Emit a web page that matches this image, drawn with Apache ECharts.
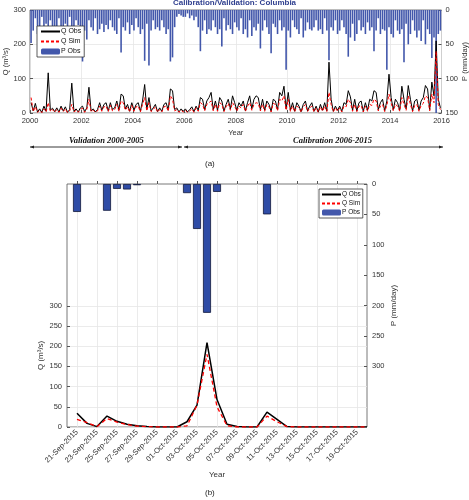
<!DOCTYPE html>
<html><head><meta charset="utf-8">
<script src="https://cdn.jsdelivr.net/npm/echarts@6/dist/echarts.min.js"></script>
<style>html,body{margin:0;padding:0;background:#fff}#c{width:469px;height:500px}</style>
</head><body><div id="c"></div>
<script>
// ---------- Panel (a): monthly representative values, Jan 2000 .. Dec 2015 ----------
const topYearStart = 2000;
const qObsMonthly = [
  30, 6, 28, 3, 12, 2, 20, 5, 117, 8, 14, 4,
  15, 3, 20, 6, 18, 2, 10, 87, 5, 12, 3, 15,
  20, 4, 15, 75, 6, 12, 3, 10, 30, 8, 25, 30,
  6, 30, 10, 15, 35, 8, 55, 50, 12, 25, 5, 30,
  8, 25, 30, 5, 35, 83, 10, 45, 6, 15, 25, 4,
  15, 5, 25, 30, 8, 70, 65, 10, 15, 3, 12, 5,
  12, 3, 10, 18, 4, 20, 8, 45, 40, 10, 35, 45,
  60, 10, 35, 8, 45, 35, 6, 25, 40, 12, 50, 30,
  8, 30, 20, 35, 6, 30, 50, 12, 40, 50, 45, 10,
  40, 8, 35, 25, 5, 40, 35, 10, 60, 50, 78, 12,
  60, 8, 30, 5, 30, 20, 4, 25, 35, 6, 20, 30,
  5, 20, 3, 25, 8, 30, 6, 148, 40, 5, 20, 8,
  20, 5, 30, 25, 65, 47, 8, 40, 6, 30, 35, 5,
  30, 8, 40, 35, 65, 60, 10, 30, 40, 6, 35, 113,
  45, 10, 40, 30, 8, 78, 40, 12, 80, 40, 6, 35,
  40, 8, 35, 45, 80, 70, 10, 90, 50, 210, 40, 15
];
const qSimMonthly = [
  45, 4, 18, 2, 8, 1, 12, 3, 30, 5, 10, 2,
  10, 2, 14, 4, 12, 1, 6, 25, 3, 8, 2, 10,
  14, 2, 10, 40, 4, 8, 2, 6, 20, 5, 18, 20,
  4, 22, 6, 10, 25, 5, 35, 30, 8, 18, 3, 22,
  5, 18, 20, 3, 25, 45, 6, 30, 4, 10, 18, 2,
  10, 3, 18, 20, 5, 50, 40, 6, 10, 2, 8, 3,
  8, 2, 6, 12, 2, 15, 5, 30, 25, 6, 25, 30,
  35, 6, 25, 5, 30, 25, 4, 18, 28, 8, 30, 20,
  5, 20, 15, 25, 4, 20, 30, 8, 25, 30, 28, 6,
  25, 5, 25, 18, 3, 28, 25, 6, 40, 35, 50, 8,
  40, 5, 20, 3, 20, 15, 2, 18, 25, 4, 15, 20,
  3, 15, 2, 18, 5, 20, 4, 60, 25, 3, 15, 5,
  15, 3, 20, 18, 40, 30, 5, 25, 4, 20, 22, 3,
  20, 5, 25, 22, 40, 35, 6, 20, 25, 4, 22, 55,
  30, 6, 25, 20, 5, 45, 25, 8, 50, 25, 4, 22,
  25, 5, 22, 28, 50, 45, 6, 55, 30, 180, 25, 10
];
const pObsMonthly = [
  48, 30, 12, 35, 25, 10, 28, 20, 30, 15, 35, 25,
  30, 12, 25, 35, 20, 34, 10, 24, 30, 15, 22, 35,
  75, 30, 43, 15, 25, 30, 12, 35, 28, 20, 32, 22,
  28, 15, 25, 30, 35, 12, 62, 25, 30, 18, 35, 22,
  30, 12, 25, 35, 28, 74, 20, 81, 30, 15, 28, 25,
  30, 15, 25, 35, 28, 75, 69, 25, 10, 6, 8, 10,
  10, 5, 12, 8, 15, 10, 25, 60, 30, 15, 35, 28,
  30, 15, 25, 35, 28, 53, 12, 30, 22, 28, 35, 18,
  25, 30, 12, 35, 28, 40, 15, 38, 25, 30, 20, 56,
  30, 15, 25, 35, 63, 20, 25, 35, 15, 30, 25, 87,
  30, 40, 15, 25, 28, 35, 12, 40, 30, 18, 28, 30,
  25, 15, 30, 28, 35, 12, 30, 73, 25, 30, 15, 35,
  30, 15, 25, 35, 68, 40, 20, 45, 35, 15, 30, 25,
  35, 18, 30, 25, 60, 30, 12, 35, 28, 30, 87, 25,
  35, 40, 15, 30, 35, 28, 76, 20, 50, 35, 15, 30,
  40, 30, 45, 15, 50, 28, 35, 70, 40, 212, 35, 30
];

// ---------- Panel (b): daily values 20-Sep-2015 .. 20-Oct-2015 ----------
const dates = [
  '20-Sep-2015','21-Sep-2015','22-Sep-2015','23-Sep-2015','24-Sep-2015','25-Sep-2015',
  '26-Sep-2015','27-Sep-2015','28-Sep-2015','29-Sep-2015','30-Sep-2015',
  '01-Oct-2015','02-Oct-2015','03-Oct-2015','04-Oct-2015','05-Oct-2015','06-Oct-2015',
  '07-Oct-2015','08-Oct-2015','09-Oct-2015','10-Oct-2015','11-Oct-2015','12-Oct-2015',
  '13-Oct-2015','14-Oct-2015','15-Oct-2015','16-Oct-2015','17-Oct-2015','18-Oct-2015',
  '19-Oct-2015','20-Oct-2015'
];
const qObsDaily = [null, 34, 9, 1, 27, 14, 7, 3, 1, 0, 0, 0, 13, 54, 209, 68, 7, 1, 0, 0, 37, 19, 1, 0, 0, 0, 0, 0, 0, 0, 0];
const qSimDaily = [null, 19, 11, 1, 21, 12, 6, 2, 1, 0, 0, 0, 3, 54, 180, 50, 3, 0, 0, 0, 27, 13, 1, 0, 0, 0, 0, 0, 0, 0, 0];
const pObsDaily = [0, 46, 0, 0, 44, 8, 9, 2, 0, 0, 0, 0, 15, 74, 212, 13, 0, 0, 0, 0, 50, 0, 0, 0, 0, 0, 0, 0, 0, 0, 0];

const pTicksB = [0, 50, 100, 150, 200, 250, 300];

// ---------- build ----------
const FONT = '"Liberation Sans", Arial, Helvetica, sans-serif';
const SERIF = '"Liberation Serif", "Times New Roman", serif';
const TXT = '#333';
const GRIDC = '#e6e6e6';
const monthX = i => topYearStart + (i + 0.5) / 12;
const toPairs = arr => arr.map((v, i) => [monthX(i), v]);

const chart = echarts.init(document.getElementById('c'), null, {renderer: 'canvas'});

function arrowHead(x, y, dir) {
  const L = 4, H = 1.6;
  return { type: 'polygon', shape: { points: [[x, y], [x - dir * L, y - H], [x - dir * L, y + H]] },
           style: { fill: '#222' }, silent: true };
}

const oddOnly = (idx) => idx % 2 === 1;
const lineLegend = (name) => ({ name: name, itemStyle: { opacity: 0 } });

chart.setOption({
  animation: false,
  backgroundColor: '#fff',
  title: {
    text: 'Calibration/Validation: Columbia', left: 'center', top: -1, padding: 0,
    textStyle: { fontFamily: FONT, fontSize: 8, fontWeight: 'bold', color: '#2f3f8f' }
  },
  grid: [
    { left: 30, top: 10, width: 411.5, height: 103, show: true, borderColor: '#555', borderWidth: 0.8, containLabel: false, outerBoundsMode: 'none' },
    { left: 67, top: 184, width: 300, height: 243, show: true, borderColor: '#555', borderWidth: 0.8, containLabel: false, outerBoundsMode: 'none' },
    { left: 67, top: 305.8, width: 300, height: 121.2, show: false, containLabel: false, outerBoundsMode: 'none' }
  ],
  legend: [
    {
      data: [lineLegend('Q Obs'), lineLegend('Q Sim'), 'P Obs'], orient: 'vertical', left: 37, top: 26,
      itemWidth: 19, itemHeight: 6, itemGap: 3, padding: [2, 3, 2, 3],
      backgroundColor: '#fff', borderColor: '#333', borderWidth: 0.8, borderRadius: 0,
      textStyle: { fontFamily: FONT, fontSize: 7, color: '#111', padding: [0, 0, 0, -4] },
      selectedMode: false
    },
    {
      data: [lineLegend('Q Obs'), lineLegend('Q Sim'), 'P Obs'], orient: 'vertical', left: 319, top: 189,
      itemWidth: 19, itemHeight: 6, itemGap: 2, padding: [2, 2, 2, 2],
      backgroundColor: '#fff', borderColor: '#333', borderWidth: 0.8, borderRadius: 0,
      textStyle: { fontFamily: FONT, fontSize: 6.5, color: '#111', padding: [0, 0, 0, -4] },
      selectedMode: false
    }
  ],
  xAxis: [
    {
      gridIndex: 0, type: 'value', min: 2000, max: 2016, interval: 2,
      axisLine: { show: false }, axisTick: { inside: true, length: 3, lineStyle: { color: '#555' } },
      axisLabel: { fontFamily: FONT, fontSize: 7.5, color: TXT, margin: 4, formatter: v => String(Math.round(v)) },
      splitLine: { show: true, lineStyle: { color: GRIDC, width: 0.8 } },
      name: 'Year', nameLocation: 'middle', nameGap: 16, nameMoveOverlap: false,
      nameTextStyle: { fontFamily: FONT, fontSize: 7.5, color: TXT }
    },
    {
      gridIndex: 1, type: 'category', data: dates, boundaryGap: false,
      axisLine: { show: false },
      axisTick: { inside: true, length: 3, interval: oddOnly, lineStyle: { color: '#555' } },
      axisLabel: { fontFamily: FONT, fontSize: 7.5, color: TXT, rotate: 45, margin: 4, interval: oddOnly },
      splitLine: { show: true, interval: oddOnly, lineStyle: { color: GRIDC, width: 0.8 } },
      name: 'Year', nameLocation: 'middle', nameGap: 44, nameMoveOverlap: false,
      nameTextStyle: { fontFamily: FONT, fontSize: 8, color: TXT }
    },
    {
      gridIndex: 2, type: 'category', data: dates, boundaryGap: false, show: false
    }
  ],
  yAxis: [
    {
      gridIndex: 0, type: 'value', min: 0, max: 300, interval: 100, position: 'left',
      axisLine: { show: false }, axisTick: { show: true, inside: true, length: 3, lineStyle: { color: '#555' } },
      axisLabel: { fontFamily: FONT, fontSize: 7.5, color: TXT, margin: 4 },
      splitLine: { show: true, lineStyle: { color: GRIDC, width: 0.8 } },
      name: 'Q (m³/s)', nameLocation: 'middle', nameGap: 20, nameMoveOverlap: false,
      nameTextStyle: { fontFamily: FONT, fontSize: 7.5, color: TXT }
    },
    {
      gridIndex: 0, type: 'value', min: 0, max: 150, interval: 50, inverse: true, position: 'right',
      axisLine: { show: false }, axisTick: { show: true, inside: true, length: 3, lineStyle: { color: '#555' } },
      axisLabel: { fontFamily: FONT, fontSize: 7.5, color: TXT, margin: 4 },
      splitLine: { show: false },
      name: 'P (mm/day)', nameLocation: 'middle', nameGap: 19, nameMoveOverlap: false,
      nameTextStyle: { fontFamily: FONT, fontSize: 7.5, color: TXT }
    },
    {
      gridIndex: 2, type: 'value', min: 0, max: 300, interval: 50, position: 'left',
      axisLine: { show: false }, axisTick: { show: true, inside: true, length: 3, lineStyle: { color: '#555' } },
      axisLabel: { fontFamily: FONT, fontSize: 7.5, color: TXT, margin: 5 },
      splitLine: { show: true, lineStyle: { color: GRIDC, width: 0.8 } },
      name: 'Q (m³/s)', nameLocation: 'middle', nameGap: 22, nameMoveOverlap: false,
      nameTextStyle: { fontFamily: FONT, fontSize: 8, color: TXT, padding: [0, 0, 0, 22] }
    },
    {
      gridIndex: 1, type: 'value', min: 0, max: 400, interval: 50, inverse: true, position: 'right',
      axisLine: { show: false },
      axisTick: { show: true, inside: true, length: 3, customValues: pTicksB, lineStyle: { color: '#555' } },
      axisLabel: { fontFamily: FONT, fontSize: 7.5, color: TXT, margin: 5, customValues: pTicksB,
                   formatter: v => (v <= 300 ? String(v) : '') },
      splitLine: { show: false },
      name: 'P (mm/day)', nameLocation: 'middle', nameGap: 23, nameMoveOverlap: false,
      nameTextStyle: { fontFamily: FONT, fontSize: 8, color: TXT }
    }
  ],
  series: [
    {
      name: 'P Obs', type: 'bar', xAxisIndex: 0, yAxisIndex: 1, data: toPairs(pObsMonthly),
      barWidth: 1.6, itemStyle: { color: '#4257ab' }, z: 1
    },
    {
      name: 'Q Obs', type: 'line', xAxisIndex: 0, yAxisIndex: 0, data: toPairs(qObsMonthly),
      symbol: 'none', lineStyle: { color: '#000', width: 1 }, itemStyle: { color: '#000' }, z: 2
    },
    {
      name: 'Q Sim', type: 'line', xAxisIndex: 0, yAxisIndex: 0, data: toPairs(qSimMonthly),
      symbol: 'none', lineStyle: { color: '#ff0000', width: 1, type: [3, 2] }, itemStyle: { color: '#ff0000' }, z: 3
    },
    {
      name: 'P Obs', type: 'bar', xAxisIndex: 1, yAxisIndex: 3, data: pObsDaily.map(v => (v > 0 ? v : null)),
      barWidth: '80%', itemStyle: { color: '#2f4ca6', borderColor: '#10163a', borderWidth: 0.8 }, z: 1
    },
    {
      name: 'Q Obs', type: 'line', xAxisIndex: 2, yAxisIndex: 2, data: qObsDaily,
      symbol: 'none', connectNulls: false, lineStyle: { color: '#000', width: 1.5 }, itemStyle: { color: '#000' }, z: 2
    },
    {
      name: 'Q Sim', type: 'line', xAxisIndex: 2, yAxisIndex: 2, data: qSimDaily,
      symbol: 'none', lineStyle: { color: '#ff0000', width: 1.3, type: [4, 3] }, itemStyle: { color: '#ff0000' }, z: 3
    }
  ],
  graphic: [
    { type: 'text', left: 110 - 41, top: 136, style: { text: 'Validation 2000-2005', font: 'italic bold 8.5px ' + SERIF, fill: '#111' } },
    { type: 'text', left: 337 - 44, top: 136, style: { text: 'Calibration 2006-2015', font: 'italic bold 8.5px ' + SERIF, fill: '#111' } },
    { type: 'line', shape: { x1: 30, y1: 147, x2: 182, y2: 147 }, style: { stroke: '#222', lineWidth: 0.9 }, silent: true },
    { type: 'line', shape: { x1: 184, y1: 147, x2: 443, y2: 147 }, style: { stroke: '#222', lineWidth: 0.9 }, silent: true },
    arrowHead(30, 147, -1), arrowHead(182, 147, 1), arrowHead(184, 147, -1), arrowHead(443, 147, 1),
    { type: 'text', left: 205, top: 160, style: { text: '(a)', font: '8px ' + FONT, fill: '#222' } },
    { type: 'text', left: 205, top: 489, style: { text: '(b)', font: '8px ' + FONT, fill: '#222' } }
  ]
});
</script>
</body></html>
